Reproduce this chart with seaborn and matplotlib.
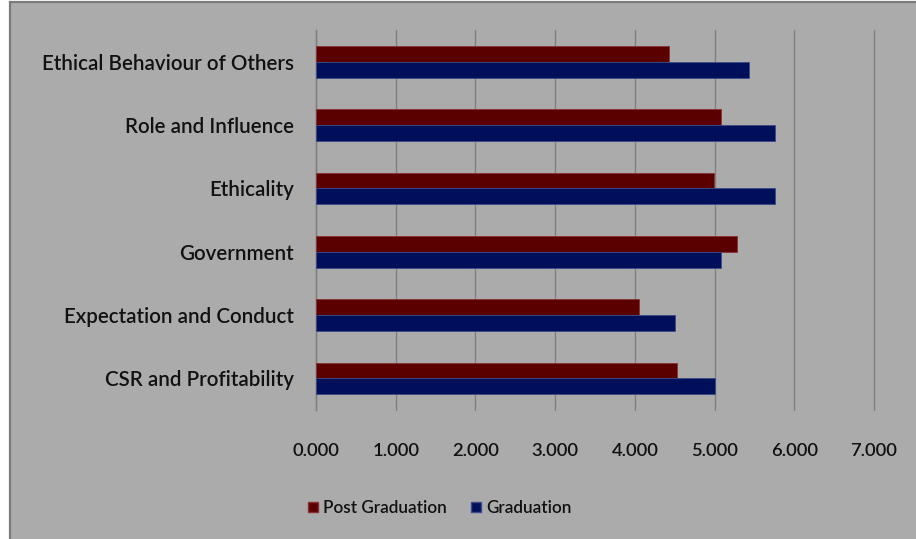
import matplotlib
matplotlib.use("Agg")
import matplotlib.pyplot as plt
from matplotlib.patches import Rectangle, Patch
import pandas as pd
import seaborn as sns

categories = [
    "Ethical Behaviour of Others",
    "Role and Influence",
    "Ethicality",
    "Government",
    "Expectation and Conduct",
    "CSR and Profitability",
]
post_graduation = [4.425, 5.086, 4.994, 5.286, 4.058, 4.534]
graduation = [5.437, 5.758, 5.758, 5.086, 4.505, 5.010]
series_names = ["Post Graduation", "Graduation"]
x_ticks = [0, 1, 2, 3, 4, 5, 6, 7]

colors = {"Post Graduation": "#5a0000", "Graduation": "#000f5a"}
edge_colors = {"Post Graduation": "#8a3030", "Graduation": "#3a4a8a"}

df = pd.DataFrame({
    "category": categories * 2,
    "series": [series_names[0]] * len(categories) + [series_names[1]] * len(categories),
    "value": post_graduation + graduation,
})

sns.set_theme(style="white")
plt.rcParams["font.family"] = ["Lato", "DejaVu Sans"]

W, H = 916, 539
fig = plt.figure(figsize=(W / 100, H / 100), dpi=100, facecolor="white")

# grey chart-area panel with a darker border on the visible edges
panel = Rectangle((10 / W, -0.05), 1.1, (H - 2) / H + 0.05,
                  transform=fig.transFigure, facecolor="#ababab",
                  edgecolor="#7a7a7a", linewidth=1.6, zorder=-10)
fig.patches.append(panel)

ax = fig.add_axes([316 / W, (H - 410) / H, (874 - 316) / W, (410 - 30) / H])
ax.set_facecolor("none")
ax.set_zorder(1)

sns.barplot(data=df, y="category", x="value", hue="series",
            hue_order=series_names, order=categories, orient="h",
            palette=colors, width=0.5, gap=0, saturation=1,
            legend=False, ax=ax, zorder=3)

for container, name in zip(ax.containers, series_names):
    for bar in container:
        bar.set_edgecolor(edge_colors[name])
        bar.set_linewidth(0.6)

ax.set_xlim(0, 7)
ax.set_ylim(len(categories) - 0.5, -0.5)
ax.set_xticks(x_ticks)
ax.set_xticklabels([f"{v:.3f}" for v in x_ticks])
ax.xaxis.grid(True, color="#808080", linewidth=1.0, zorder=0)
for gl in ax.get_xgridlines():
    gl.set_clip_on(False)
ax.set_axisbelow(True)
ax.set_xlabel("")
ax.set_ylabel("")

for side in ["top", "right", "bottom"]:
    ax.spines[side].set_visible(False)
ax.spines["left"].set_color("#808080")
ax.spines["left"].set_linewidth(1.0)

ax.tick_params(axis="x", length=3, color="#808080", pad=21,
               labelsize=13.2, labelcolor="#111111")
ax.tick_params(axis="y", length=0, pad=16, labelsize=14.8, labelcolor="#111111")
for lbl in ax.get_xticklabels() + ax.get_yticklabels():
    lbl.set_fontweight("semibold")

handles = [Patch(facecolor=colors[n], edgecolor=edge_colors[n], label=n)
           for n in series_names]
leg = fig.legend(handles=handles, loc="center", ncol=2,
                 bbox_to_anchor=(440 / W, 1 - 508 / H), frameon=False,
                 handlelength=0.6, handleheight=0.6, handletextpad=0.3,
                 columnspacing=1.4, prop={"size": 12.3, "weight": "semibold"})
for t in leg.get_texts():
    t.set_color("#111111")

fig.savefig("out.png", dpi=100, facecolor="white")
